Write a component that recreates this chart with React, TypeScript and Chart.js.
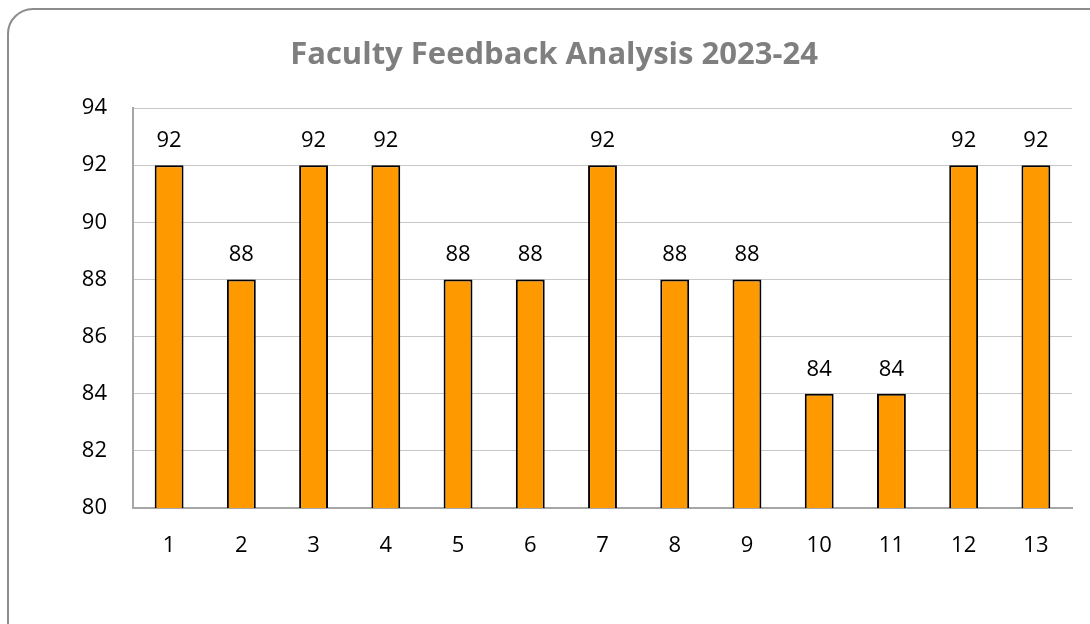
import React, { useEffect, useRef } from "react";
import { Chart, registerables } from "chart.js";

Chart.register(...registerables);

const categories = ["1", "2", "3", "4", "5", "6", "7", "8", "9", "10", "11", "12", "13"];
const scores = [92, 88, 92, 92, 88, 88, 92, 88, 88, 84, 84, 92, 92];
const titleText = "Faculty Feedback Analysis 2023-24";
const yMin = 80;
const yMax = 94;
const yStep = 2;

const FONT = "'Open Sans', Lato, sans-serif";

const dataLabelPlugin = {
  id: "dataLabels",
  afterDatasetsDraw(chart: any) {
    const ctx = chart.ctx;
    const meta = chart.getDatasetMeta(0);
    ctx.save();
    ctx.font = `22px ${FONT}`;
    ctx.fillStyle = "#000000";
    ctx.textAlign = "center";
    ctx.textBaseline = "alphabetic";
    meta.data.forEach((bar: any, i: number) => {
      ctx.fillText(String(scores[i]), bar.x, bar.y - 18);
    });
    ctx.restore();
  },
};

const titlePlugin = {
  id: "customTitle",
  afterDraw(chart: any) {
    const ctx = chart.ctx;
    ctx.save();
    ctx.font = `bold 31px ${FONT}`;
    ctx.fillStyle = "#7f7f7f";
    ctx.textAlign = "center";
    ctx.textBaseline = "alphabetic";
    ctx.fillText(titleText, 554, 64);
    ctx.restore();
  },
};

export default function App() {
  const ref = useRef<HTMLCanvasElement | null>(null);
  useEffect(() => {
    if (!ref.current) return;
    const chart = new Chart(ref.current, {
      type: "bar",
      data: {
        labels: categories,
        datasets: [
          {
            data: scores,
            backgroundColor: "#FF9900",
            borderColor: "#000000",
            borderWidth: 2,
            barPercentage: 0.4,
            categoryPercentage: 1,
          },
        ],
      },
      options: {
        responsive: false,
        animation: false,
        devicePixelRatio: 1,
        layout: { padding: { top: 108, right: 18, left: 0, bottom: 0 } },
        plugins: {
          legend: { display: false },
          tooltip: { enabled: false },
          title: { display: false },
        },
        scales: {
          x: {
            grid: { display: false, drawTicks: false },
            border: { display: true, color: "#a6a6a6", width: 2 },
            ticks: { color: "#000000", font: { family: FONT, size: 22 }, padding: 25 },
            afterFit(scale: any) {
              scale.height = 116;
            },
          },
          y: {
            min: yMin,
            max: yMax,
            grid: { color: "#c8c8c8", lineWidth: 1, drawTicks: false },
            border: { display: true, color: "#a6a6a6", width: 2 },
            ticks: {
              stepSize: yStep,
              color: "#000000",
              font: { family: FONT, size: 22 },
              padding: 26,
            },
            afterFit(scale: any) {
              scale.width = 133;
            },
          },
        },
      },
      plugins: [dataLabelPlugin, titlePlugin],
    });
    return () => chart.destroy();
  }, []);

  return (
    <div
      style={{
        position: "absolute",
        left: 0,
        top: 0,
        width: 1090,
        height: 624,
        overflow: "hidden",
        background: "#ffffff",
      }}
    >
      <div
        style={{
          position: "absolute",
          left: 7,
          top: 8,
          width: 1200,
          height: 700,
          border: "2px solid #8c8c8c",
          borderRadius: 26,
          boxSizing: "border-box",
        }}
      />
      <canvas
        ref={ref}
        width={1090}
        height={624}
        style={{ position: "absolute", left: 0, top: 0, width: 1090, height: 624 }}
      />
    </div>
  );
}
